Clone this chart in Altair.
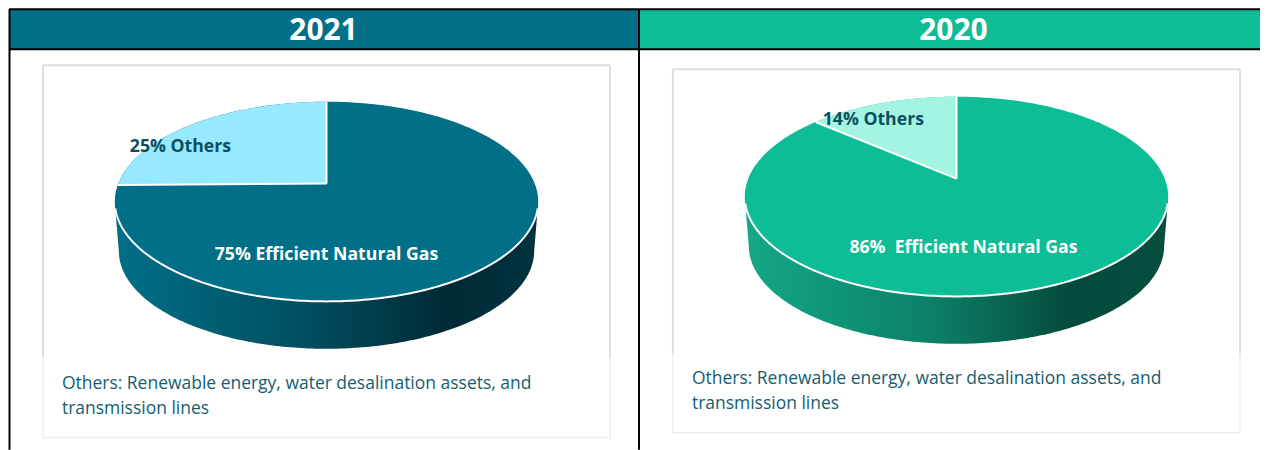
import numpy as np
import pandas as pd
import altair as alt

# ---- values ----
years = ["2021", "2020"]
others_share = [25, 14]
gas_share = [75, 86]
others_labels = ["25% Others", "14% Others"]
gas_labels = ["75% Efficient Natural Gas", "86%\u00a0 Efficient Natural Gas"]
caption_lines = ["Others: Renewable energy, water desalination assets, and", "transmission lines"]

FONT = "Open Sans"

styles = [
    dict(px=(8, 639), vline=8.5, k=0.845, cx=326, cy=201.5, card=(42, 610, 65, 358, 438), head="#006F87",
         top="#006F87", wedge="#96E9FF", text="#0B4F60", others_x=129, others_y=147,
         gas_x=326, gas_y=255.5, cap_x=61, cap_y=(384, 409),
         side=["#006F87", "#004F60", "#002A35", "#00333F"]),
    dict(px=(639, 1261), vline=639, k=0.81, cx=957, cy=196.5, card=(673, 1241, 69, 354, 433), head="#0DBD96",
         top="#0DBD96", wedge="#A3F5E2", text="#0B4F60", others_x=823, others_y=120,
         gas_x=964, gas_y=248.5, cap_x=692, cap_y=(379.5, 404.5),
         side=["#14A886", "#0B7F66", "#034A3A", "#064F3E"]),
]

RX, RY = 212, 100        # top ellipse radii
RX2, RY2, DROP = 208, 98, 49.5  # bottom rim ellipse
APEX = 0.18              # the perspective moves the slices' meeting point up


def panel(i):
    s = styles[i]
    cx, cy = s["cx"], s["cy"]
    x0, x1 = s["px"]
    xs = alt.Scale(domain=[x0, x1], range=[0, x1 - x0], nice=False, zero=False)
    ys = alt.Scale(domain=[450, 8], nice=False, zero=False)
    X = lambda f="x": alt.X(f"{f}:Q", scale=xs, axis=None, title=None)
    Y = lambda f="y": alt.Y(f"{f}:Q", scale=ys, axis=None, title=None)
    X2 = alt.X2("x2:Q")
    Y2 = alt.Y2("y2:Q")

    # header band + black grid lines
    head = alt.Chart(pd.DataFrame([dict(x=x0, x2=x1, y=9, y2=49)])).mark_rect(color=s["head"]).encode(
        x=X(), x2=X2, y=Y(), y2=Y2)
    rules = pd.DataFrame([
        dict(x=x0, x2=x1, y=9, y2=9),
        dict(x=x0, x2=x1, y=49, y2=49),
        dict(x=s["vline"], x2=s["vline"], y=9, y2=450),
    ])
    grid = alt.Chart(rules).mark_rule(color="#000000", strokeWidth=2).encode(
        x=X(), x2=X2, y=Y(), y2=Y2)
    title = alt.Chart(pd.DataFrame([dict(x=(cx - 3), y=31, t=years[i])])).mark_text(
        font=FONT, fontSize=30, fontWeight="bold", color="#FFFFFF", align="center", baseline="middle"
    ).encode(x=X(), y=Y(), text="t:N")

    # card
    c = s["card"]
    card_up = pd.DataFrame([
        dict(x=c[0], x2=c[1], y=c[2], y2=c[2]),
        dict(x=c[0], x2=c[0], y=c[2], y2=c[3]),
        dict(x=c[1], x2=c[1], y=c[2], y2=c[3]),
    ])
    card_lo = pd.DataFrame([
        dict(x=c[0], x2=c[1], y=c[4], y2=c[4]),
        dict(x=c[0], x2=c[0], y=c[3], y2=c[4]),
        dict(x=c[1], x2=c[1], y=c[3], y2=c[4]),
    ])
    card1 = alt.Chart(card_up).mark_rule(color="#DEDEDE", strokeWidth=2).encode(x=X(), x2=X2, y=Y(), y2=Y2)
    card2 = alt.Chart(card_lo).mark_rule(color="#E8E8E8", strokeWidth=1).encode(x=X(), x2=X2, y=Y(), y2=Y2)

    # side wall
    a = np.linspace(0, np.pi, 181)
    sx = cx - RX2 * np.cos(a)
    sy = cy + DROP + RY2 * np.sin(a)
    side_df = pd.DataFrame(dict(
        x=np.r_[cx - RX, sx, cx + RX],
        y=np.r_[cy + 2, sy, cy + 2],
        y2=cy + 2,
    ))
    grad = alt.Gradient(gradient="linear", x1=0, x2=1, y1=0, y2=0, stops=[
        alt.GradientStop(offset=0.0, color=s["side"][0]),
        alt.GradientStop(offset=0.45, color=s["side"][1]),
        alt.GradientStop(offset=0.78, color=s["side"][2]),
        alt.GradientStop(offset=1.0, color=s["side"][3]),
    ])
    side = alt.Chart(side_df).mark_area(fill=grad, interpolate="linear").encode(x=X(), y=Y(), y2=Y2)

    # top disc: the large slice
    disc_df = pd.DataFrame(dict(
        x=cx - RX * np.cos(a),
        y=cy + RY * np.sin(a),
        y2=cy - RY * np.sin(a),
    ))
    disc = alt.Chart(disc_df).mark_area(color=s["top"]).encode(x=X(), y=Y(), y2=Y2)
    rim = alt.Chart(disc_df.iloc[4:-4]).mark_line(color="#FFFFFF", strokeWidth=2).encode(x=X(), y=Y())

    # small slice, its angle comes from the share
    phi = others_share[i] / 100 * 2 * np.pi
    T = 2 * np.arctan(s["k"] * np.tan(phi / 2))
    t = np.linspace(T, 0, 90)
    ax, ay = cx, cy - RY * APEX
    ex, ey = cx - RX * np.sin(T), cy - RY * np.cos(T)
    wx = cx - RX * np.sin(t)
    wedge_df = pd.DataFrame(dict(
        x=wx,
        y=cy - RY * np.cos(t),
        y2=ey + (wx - ex) / (ax - ex) * (ay - ey),
    ))
    wedge = alt.Chart(wedge_df).mark_area(color=s["wedge"]).encode(x=X(), y=Y(), y2=Y2)
    seps = pd.DataFrame([
        dict(x=ax, y=ay, x2=cx, y2=cy - RY),
        dict(x=ax, y=ay, x2=ex, y2=ey),
    ])
    sep = alt.Chart(seps).mark_rule(color="#FFFFFF", strokeWidth=2).encode(x=X(), x2=X2, y=Y(), y2=Y2)

    # labels
    lab1 = alt.Chart(pd.DataFrame([dict(x=s["others_x"], y=s["others_y"], t=others_labels[i])])).mark_text(
        font=FONT, fontSize=17.7, fontWeight="bold", color=s["text"], align="left", baseline="middle"
    ).encode(x=X(), y=Y(), text="t:N")
    lab2 = alt.Chart(pd.DataFrame([dict(x=s["gas_x"], y=s["gas_y"], t=gas_labels[i])])).mark_text(
        font=FONT, fontSize=17.7, fontWeight="bold", color="#FFFFFF", align="center", baseline="middle"
    ).encode(x=X(), y=Y(), text="t:N")
    cap = alt.Chart(pd.DataFrame(dict(x=s["cap_x"], y=list(s["cap_y"]), t=caption_lines))).mark_text(
        font=FONT, fontSize=17.5, color="#135E6E", align="left", baseline="middle"
    ).encode(x=X(), y=Y(), text="t:N")

    return alt.layer(head, card1, card2, side, disc, rim, wedge, sep, grid, title, lab1, lab2, cap).properties(
        width=x1 - x0, height=442)


chart = alt.hconcat(panel(0), panel(1), spacing=0, bounds="flush").resolve_scale(x="independent", y="independent").properties(
    padding=0, background="#FFFFFF"
).configure_view(stroke=None)

chart.save("out.html", embed_options={"renderer": "svg", "actions": False})
